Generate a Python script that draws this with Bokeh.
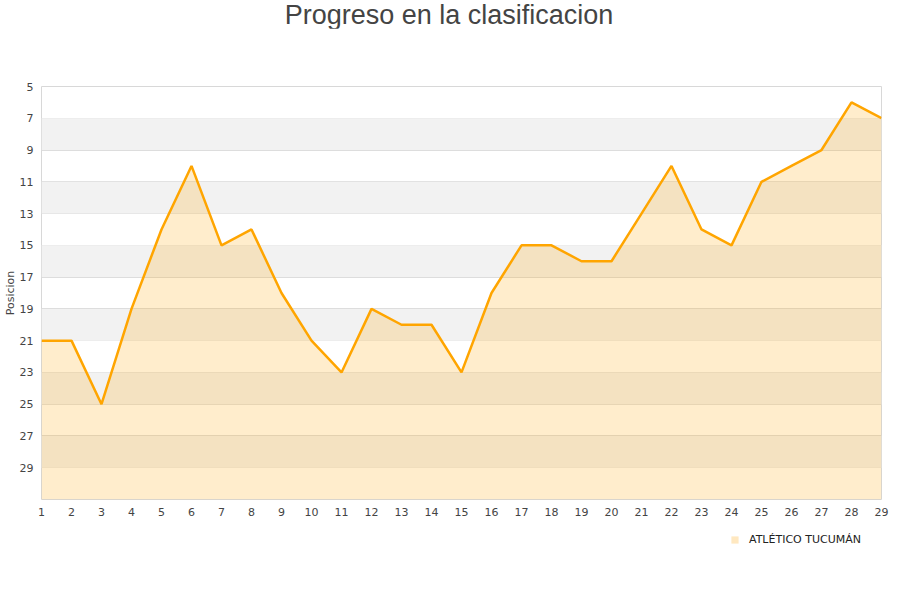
from bokeh.plotting import figure
from bokeh.layouts import column
from bokeh.models import FixedTicker, BoxAnnotation, Legend, LegendItem, Div
from bokeh.embed import file_html
from bokeh.resources import INLINE

# fechas (jornadas) y posicion en la tabla
jornadas = list(range(1, 30))
posicion = [21, 21, 25, 19, 14, 10, 15, 14, 18, 21, 23, 19, 20, 20, 23,
            18, 15, 15, 16, 16, 13, 10, 14, 15, 11, 10, 9, 6, 7]
y_ticks = [5, 7, 9, 11, 13, 15, 17, 19, 21, 23, 25, 27, 29]
equipo = "ATLÉTICO TUCUMÁN"
titulo = "Progreso en la clasificacion"

header = Div(text=titulo, width=884, height=28, margin=0,
             styles={"text-align": "center", "font-family": "Liberation Sans",
                     "font-size": "27px", "color": "#444444",
                     "line-height": "30px", "white-space": "nowrap",
                     "padding-left": "14px", "box-sizing": "border-box"})

p = figure(frame_width=840, frame_height=413,
           x_range=(1, 29), y_range=(31, 5),
           output_backend="svg", toolbar_location=None,
           min_border_left=32, min_border_right=12,
           min_border_top=58, min_border_bottom=30,
           background_fill_color="white", border_fill_color="white")

p.outline_line_color = "#d8d8d8"

# bandas grises alternas
for lo in y_ticks[1::2]:
    p.add_layout(BoxAnnotation(bottom=lo, top=lo + 2, fill_color="#f2f2f2",
                               fill_alpha=1, line_color=None, level="underlay"))

p.xaxis.ticker = FixedTicker(ticks=jornadas)
p.yaxis.ticker = FixedTicker(ticks=y_ticks)
for ax in (p.xaxis, p.yaxis):
    ax.axis_line_color = None
    ax.major_tick_line_color = None
    ax.minor_tick_line_color = None
    ax.major_tick_out = 0
    ax.major_tick_in = 0
    ax.minor_tick_out = 0
    ax.major_label_text_color = "#444444"
    ax.major_label_text_font = "DejaVu Sans"
    ax.major_label_text_font_size = "11px"
    ax.major_label_standoff = 8
p.yaxis.axis_label = "Posicion"
p.yaxis.axis_label_text_font_style = "normal"
p.yaxis.axis_label_text_font_size = "11px"
p.yaxis.axis_label_text_font = "DejaVu Sans"
p.yaxis.axis_label_text_color = "#444444"
p.yaxis.axis_label_standoff = 0

p.xgrid.grid_line_color = None
p.ygrid.grid_line_color = "#dddddd"
p.ygrid.level = "underlay"

p.varea(x=jornadas, y1=posicion, y2=31, fill_color="#ffa500", fill_alpha=0.2)
p.line(jornadas, posicion, line_color="#ffa500", line_width=2.5)

# franja de leyenda debajo del grafico (la serie queda fuera de su rango visible)
q = figure(width=884, height=28, x_range=(1, 29), y_range=(0, 1),
           output_backend="svg", toolbar_location=None,
           min_border=0, outline_line_color=None,
           background_fill_color="white", border_fill_color="white")
q.axis.visible = False
q.grid.visible = False
muestra = q.varea(x=jornadas, y1=posicion, y2=31, fill_color="#ffe8c0")
legend = Legend(items=[LegendItem(label=equipo, renderers=[muestra])],
                location="bottom_right", orientation="horizontal",
                border_line_color=None, background_fill_alpha=0,
                label_text_font="DejaVu Sans", label_text_font_size="11px",
                label_text_color="#222222", glyph_width=9, glyph_height=9,
                label_standoff=10, margin=11, padding=4)
q.add_layout(legend)

open("out.html", "w").write(file_html(column(header, p, q), INLINE))
